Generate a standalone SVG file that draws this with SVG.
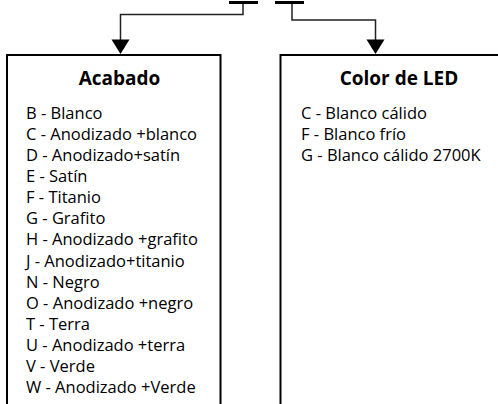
<svg xmlns="http://www.w3.org/2000/svg" width="498" height="404" viewBox="0 0 498 404">
<defs>
<style>
.box{fill:#fff;stroke:#000;stroke-width:2}
.bar{stroke:#000;stroke-width:3;fill:none}
.con{stroke:#222;stroke-width:1.5;fill:none}
.title{font-family:"Open Sans","Liberation Sans",sans-serif;font-weight:bold;font-size:19px;fill:#000}
.item{font-family:"Open Sans","Liberation Sans",sans-serif;font-size:16.5px;fill:#000}
</style>
</defs>
<rect width="498" height="404" fill="#fff"/>
<g id="connectors">
<line class="bar" x1="229" y1="2.5" x2="258" y2="2.5"/>
<line class="bar" x1="275" y1="2.5" x2="304" y2="2.5"/>
<polyline class="con" points="243,4 243,14.5 120.5,14.5 120.5,42"/>
<polygon points="111.5,39.5 129.5,39.5 120.5,54" fill="#000"/>
<polyline class="con" points="292,4 292,20 375.5,20 375.5,42"/>
<polygon points="366.5,39.5 384.5,39.5 375.5,54" fill="#000"/>
</g>
<g id="acabado">
<rect class="box" x="7" y="55" width="213.5" height="360"/>
<text class="title" x="119.5" y="84.5" text-anchor="middle">Acabado</text>
<text class="item" x="26" y="118.5">B - Blanco</text>
<text class="item" x="26" y="139.6">C - Anodizado +blanco</text>
<text class="item" x="26" y="160.8">D - Anodizado+satín</text>
<text class="item" x="26" y="181.9">E - Satín</text>
<text class="item" x="26" y="203.1">F - Titanio</text>
<text class="item" x="26" y="224.2">G - Grafito</text>
<text class="item" x="26" y="245.4">H - Anodizado +grafito</text>
<text class="item" x="26" y="266.5">J - Anodizado+titanio</text>
<text class="item" x="26" y="287.7">N - Negro</text>
<text class="item" x="26" y="308.8">O - Anodizado +negro</text>
<text class="item" x="26" y="330">T - Terra</text>
<text class="item" x="26" y="351.1">U - Anodizado +terra</text>
<text class="item" x="26" y="372.3">V - Verde</text>
<text class="item" x="26" y="393.4">W - Anodizado +Verde</text>
</g>
<g id="color-led">
<rect class="box" x="280.5" y="55" width="240" height="360"/>
<text class="title" x="399" y="84.5" text-anchor="middle">Color de LED</text>
<text class="item" x="301" y="118.5">C - Blanco cálido</text>
<text class="item" x="301" y="139.6">F - Blanco frío</text>
<text class="item" x="301" y="160.8">G - Blanco cálido 2700K</text>
</g>
</svg>
